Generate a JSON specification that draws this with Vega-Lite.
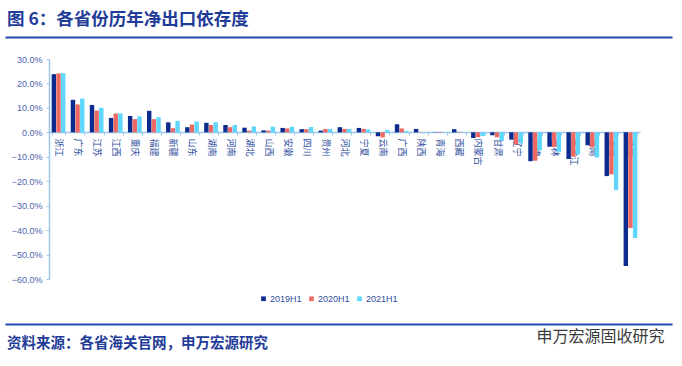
{
  "$schema": "https://vega.github.io/schema/vega-lite/v6.json",
  "width": 667,
  "height": 220,
  "autosize": {"type": "none"},
  "padding": {"left": 5, "top": 59, "right": 10, "bottom": 87},
  "background": "white",
  "title": {
    "text": "图 6：各省份历年净出口依存度",
    "subtitle": "资料来源：各省海关官网，申万宏源研究",
    "anchor": "start",
    "frame": "group",
    "orient": "top",
    "font": "Noto Sans CJK SC",
    "fontSize": 17.5,
    "fontWeight": "bold",
    "color": "#1f3c99",
    "subtitleFont": "Noto Sans CJK SC",
    "subtitleFontSize": 14.5,
    "subtitleFontWeight": "bold",
    "subtitleColor": "#1f3c99",
    "subtitlePadding": 308,
    "offset": -313,
    "dx": 2
  },
  "data": {
    "values": [
      {"province": "浙江", "year": "2019H1", "value": 23.8}, {"province": "浙江", "year": "2020H1", "value": 24.1}, {"province": "浙江", "year": "2021H1", "value": 24.2},
      {"province": "广东", "year": "2019H1", "value": 13.3}, {"province": "广东", "year": "2020H1", "value": 11.4}, {"province": "广东", "year": "2021H1", "value": 13.8},
      {"province": "江苏", "year": "2019H1", "value": 11.2}, {"province": "江苏", "year": "2020H1", "value": 8.9}, {"province": "江苏", "year": "2021H1", "value": 10.0},
      {"province": "江西", "year": "2019H1", "value": 5.9}, {"province": "江西", "year": "2020H1", "value": 7.7}, {"province": "江西", "year": "2021H1", "value": 7.7},
      {"province": "重庆", "year": "2019H1", "value": 6.7}, {"province": "重庆", "year": "2020H1", "value": 5.4}, {"province": "重庆", "year": "2021H1", "value": 6.5},
      {"province": "福建", "year": "2019H1", "value": 8.8}, {"province": "福建", "year": "2020H1", "value": 5.4}, {"province": "福建", "year": "2021H1", "value": 6.2},
      {"province": "新疆", "year": "2019H1", "value": 4.1}, {"province": "新疆", "year": "2020H1", "value": 1.7}, {"province": "新疆", "year": "2021H1", "value": 4.7},
      {"province": "山东", "year": "2019H1", "value": 2.1}, {"province": "山东", "year": "2020H1", "value": 3.2}, {"province": "山东", "year": "2021H1", "value": 4.4},
      {"province": "湖南", "year": "2019H1", "value": 3.9}, {"province": "湖南", "year": "2020H1", "value": 3.0}, {"province": "湖南", "year": "2021H1", "value": 4.1},
      {"province": "河南", "year": "2019H1", "value": 3.0}, {"province": "河南", "year": "2020H1", "value": 2.1}, {"province": "河南", "year": "2021H1", "value": 3.0},
      {"province": "湖北", "year": "2019H1", "value": 1.9}, {"province": "湖北", "year": "2020H1", "value": 0.7}, {"province": "湖北", "year": "2021H1", "value": 2.4},
      {"province": "山西", "year": "2019H1", "value": 0.8}, {"province": "山西", "year": "2020H1", "value": 0.7}, {"province": "山西", "year": "2021H1", "value": 2.3},
      {"province": "安徽", "year": "2019H1", "value": 1.8}, {"province": "安徽", "year": "2020H1", "value": 1.6}, {"province": "安徽", "year": "2021H1", "value": 2.3},
      {"province": "四川", "year": "2019H1", "value": 1.3}, {"province": "四川", "year": "2020H1", "value": 1.3}, {"province": "四川", "year": "2021H1", "value": 2.2},
      {"province": "贵州", "year": "2019H1", "value": 0.7}, {"province": "贵州", "year": "2020H1", "value": 1.4}, {"province": "贵州", "year": "2021H1", "value": 1.4},
      {"province": "河北", "year": "2019H1", "value": 2.1}, {"province": "河北", "year": "2020H1", "value": 1.4}, {"province": "河北", "year": "2021H1", "value": 1.4},
      {"province": "宁夏", "year": "2019H1", "value": 1.8}, {"province": "宁夏", "year": "2020H1", "value": 1.4}, {"province": "宁夏", "year": "2021H1", "value": 1.2},
      {"province": "云南", "year": "2019H1", "value": -1.6}, {"province": "云南", "year": "2020H1", "value": -2.1}, {"province": "云南", "year": "2021H1", "value": 1.0},
      {"province": "广西", "year": "2019H1", "value": 3.3}, {"province": "广西", "year": "2020H1", "value": 1.6}, {"province": "广西", "year": "2021H1", "value": 0.5},
      {"province": "陕西", "year": "2019H1", "value": 1.4}, {"province": "陕西", "year": "2020H1", "value": 0.1}, {"province": "陕西", "year": "2021H1", "value": 0.1},
      {"province": "青海", "year": "2019H1", "value": 0.1}, {"province": "青海", "year": "2020H1", "value": 0.2}, {"province": "青海", "year": "2021H1", "value": 0.1},
      {"province": "西藏", "year": "2019H1", "value": 1.3}, {"province": "西藏", "year": "2020H1", "value": 0.2}, {"province": "西藏", "year": "2021H1", "value": 0.0},
      {"province": "内蒙古", "year": "2019H1", "value": -2.3}, {"province": "内蒙古", "year": "2020H1", "value": -2.0}, {"province": "内蒙古", "year": "2021H1", "value": -1.5},
      {"province": "甘肃", "year": "2019H1", "value": -1.2}, {"province": "甘肃", "year": "2020H1", "value": -2.0}, {"province": "甘肃", "year": "2021H1", "value": -3.4},
      {"province": "辽宁", "year": "2019H1", "value": -3.0}, {"province": "辽宁", "year": "2020H1", "value": -5.0}, {"province": "辽宁", "year": "2021H1", "value": -4.5},
      {"province": "天津", "year": "2019H1", "value": -11.8}, {"province": "天津", "year": "2020H1", "value": -11.6}, {"province": "天津", "year": "2021H1", "value": -7.3},
      {"province": "吉林", "year": "2019H1", "value": -5.9}, {"province": "吉林", "year": "2020H1", "value": -6.0}, {"province": "吉林", "year": "2021H1", "value": -8.0},
      {"province": "黑龙江", "year": "2019H1", "value": -10.9}, {"province": "黑龙江", "year": "2020H1", "value": -10.0}, {"province": "黑龙江", "year": "2021H1", "value": -9.0},
      {"province": "海南", "year": "2019H1", "value": -5.3}, {"province": "海南", "year": "2020H1", "value": -6.2}, {"province": "海南", "year": "2021H1", "value": -10.3},
      {"province": "上海", "year": "2019H1", "value": -17.9}, {"province": "上海", "year": "2020H1", "value": -17.2}, {"province": "上海", "year": "2021H1", "value": -23.6},
      {"province": "北京", "year": "2019H1", "value": -54.7}, {"province": "北京", "year": "2020H1", "value": -39.1}, {"province": "北京", "year": "2021H1", "value": -43.2}
    ]
  },
  "resolve": {"scale": {"x": "independent"}, "axis": {"x": "independent"}},
  "layer": [
    {
      "mark": {"type": "bar"},
      "encoding": {
        "x": {
          "field": "province",
          "type": "nominal",
          "sort": null,
          "title": null,
          "scale": {
            "domain": ["浙江", "广东", "江苏", "江西", "重庆", "福建", "新疆", "山东", "湖南", "河南", "湖北", "山西", "安徽", "四川", "贵州", "河北", "宁夏", "云南", "广西", "陕西", "青海", "西藏", "内蒙古", "甘肃", "辽宁", "天津", "吉林", "黑龙江", "海南", "上海", "北京"],
            "range": [44, 635],
            "paddingInner": 0.28,
            "paddingOuter": 0.14
          },
          "axis": {
            "orient": "bottom",
            "offset": -147,
            "domain": true,
            "domainColor": "#9cc5ec",
            "domainWidth": 1.5,
            "ticks": true,
            "tickBand": "extent",
            "tickSize": 3,
            "tickColor": "#9cc5ec",
            "labelAngle": 90,
            "labelFont": "Noto Sans CJK SC",
            "labelFontSize": 9,
            "labelColor": "#2f4fa0",
            "labelPadding": 3,
            "grid": false,
            "title": null
          }
        },
        "xOffset": {
          "field": "year",
          "type": "nominal",
          "scale": {"paddingInner": 0.05, "paddingOuter": 0}
        },
        "y": {
          "field": "value",
          "type": "quantitative",
          "title": null,
          "scale": {"domain": [-60, 30], "nice": false},
          "axis": {
            "offset": -44,
            "values": [-60, -50, -40, -30, -20, -10, 0, 10, 20, 30],
            "tickCount": 10,
            "labelExpr": "format(datum.value, '.1f') + '%'",
            "labelOverlap": false,
            "labelFont": "Liberation Sans",
            "labelFontSize": 9,
            "labelColor": "#4a64ad",
            "domainColor": "#9cc5ec",
            "domainWidth": 1.5,
            "tickColor": "#9cc5ec",
            "tickSize": 3,
            "labelPadding": 4,
            "grid": false,
            "title": null
          }
        },
        "color": {
          "field": "year",
          "type": "nominal",
          "scale": {"domain": ["2019H1", "2020H1", "2021H1"], "range": ["#0b2c8e", "#ec6a63", "#5fd6fb"]},
          "legend": {
            "orient": "none",
            "legendX": 254,
            "legendY": 235,
            "direction": "horizontal",
            "title": null,
            "symbolType": "square",
            "symbolSize": 22,
            "symbolStrokeWidth": 0,
            "labelFont": "Liberation Sans",
            "labelFontSize": 9,
            "labelColor": "#2f4fa0",
            "columnPadding": 5,
            "labelOffset": 2,
            "padding": 0
          }
        }
      }
    },
    {
      "mark": {"type": "rule", "opacity": 0},
      "encoding": {
        "x": {
          "datum": 0,
          "type": "quantitative",
          "title": null,
          "scale": {"domain": [0, 1]},
          "axis": {
            "orient": "top",
            "offset": 22,
            "domain": true,
            "domainColor": "#1f4bb0",
            "domainWidth": 2,
            "labels": false,
            "ticks": false,
            "grid": false,
            "title": null
          }
        },
        "y": {
          "datum": 0,
          "type": "quantitative",
          "title": null,
          "axis": {
            "offset": -44,
            "values": [-60, -50, -40, -30, -20, -10, 0, 10, 20, 30],
            "tickCount": 10,
            "labelExpr": "format(datum.value, '.1f') + '%'",
            "labelOverlap": false,
            "labelFont": "Liberation Sans",
            "labelFontSize": 9,
            "labelColor": "#4a64ad",
            "domainColor": "#9cc5ec",
            "domainWidth": 1.5,
            "tickColor": "#9cc5ec",
            "tickSize": 3,
            "labelPadding": 4,
            "grid": false,
            "title": null
          }
        }
      }
    },
    {
      "mark": {"type": "rule", "opacity": 0},
      "encoding": {
        "x": {
          "datum": 0,
          "type": "quantitative",
          "scale": {"domain": [0, 1]},
          "axis": {
            "orient": "bottom",
            "offset": 45,
            "domain": true,
            "domainColor": "#1f4bb0",
            "domainWidth": 2,
            "labels": false,
            "ticks": false,
            "grid": false,
            "title": "申万宏源固收研究",
            "titleX": 595,
            "titleY": 12,
            "titleAlign": "center",
            "titleBaseline": "middle",
            "titleFont": "Noto Sans CJK SC",
            "titleFontSize": 16,
            "titleFontWeight": "normal",
            "titleColor": "#3a3a3a"
          }
        },
        "y": {
          "datum": 0,
          "type": "quantitative",
          "title": null,
          "axis": {
            "offset": -44,
            "values": [-60, -50, -40, -30, -20, -10, 0, 10, 20, 30],
            "tickCount": 10,
            "labelExpr": "format(datum.value, '.1f') + '%'",
            "labelOverlap": false,
            "labelFont": "Liberation Sans",
            "labelFontSize": 9,
            "labelColor": "#4a64ad",
            "domainColor": "#9cc5ec",
            "domainWidth": 1.5,
            "tickColor": "#9cc5ec",
            "tickSize": 3,
            "labelPadding": 4,
            "grid": false,
            "title": null
          }
        }
      }
    }
  ],
  "config": {
    "view": {"stroke": null},
    "axis": {"grid": false}
  }
}
